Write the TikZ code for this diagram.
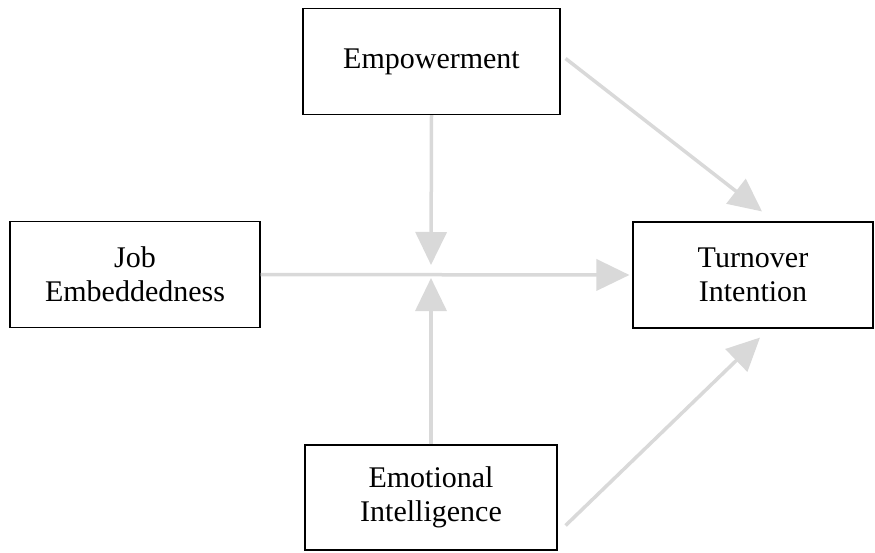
\documentclass[tikz,border=0pt]{standalone}
\usepackage{fontspec}
\setmainfont{Liberation Serif}
\usepackage{xcolor}
\colorlet{ARROWCOLOR}{black!15}
\usetikzlibrary{arrows.meta,positioning,calc}
\tikzset{
  box-style/.style = {
    rectangle, draw=black, line width=1.1pt, fill=white,
    minimum width=#1, minimum height=106pt,
    align=center, inner sep=2pt,
    font=\fontsize{30}{34}\selectfont
  },
  box-style/.default = 252pt,
  arrow-style/.style = {
    draw=ARROWCOLOR, line width=3.5pt,
    -{Triangle[length=33pt,width=31pt]}
  }
}

\begin{document}
\begin{tikzpicture}[x=1pt,y=-1pt]
    \useasboundingbox (0,0) rectangle (875,552);

    %%% boxes
    \node[box-style=257pt] (empower) at (431.5,61.5) {Empowerment};
    \node[box-style=250pt] (jobEmb) at (135,274.5) {Job\\Embeddedness};
    \node[box-style=240pt] (turnInt) at (753,275) {Turnover\\Intention};
    \node[box-style=252pt,minimum height=105pt] (emoInt) at (431,497.5) {Emotional\\Intelligence};

    %%% meeting points
    \coordinate (meetTop) at (431,265);
    \coordinate (meetBot) at (431,278);

    %%% arrows
    \path[arrow-style] (empower.south) -- (meetTop);
    \path[arrow-style] (emoInt.north) -- (meetBot);
    \path[arrow-style,shorten >=3pt] (jobEmb.east) -- (turnInt.west);
    \path[arrow-style] ([xshift=5pt,yshift=3pt]empower.east) -- ([xshift=9pt,yshift=10pt]turnInt.north);
    \path[arrow-style] ([xshift=8pt,yshift=-28pt]emoInt.east) -- ([xshift=7pt,yshift=-9pt]turnInt.south);
\end{tikzpicture}
\end{document}
